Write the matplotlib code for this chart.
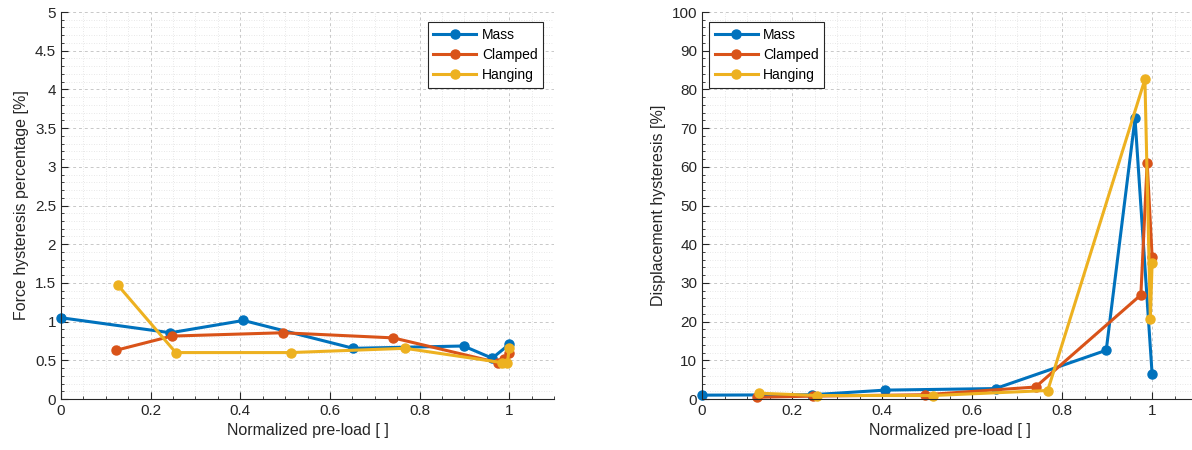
import numpy as np
import matplotlib
matplotlib.use('Agg')
import matplotlib.pyplot as plt
from matplotlib.ticker import MultipleLocator, FuncFormatter

plt.rcParams['font.family'] = ['Liberation Sans', 'DejaVu Sans']

# Force hysteresis data (left)
mass_x = [0.0, 0.244, 0.407, 0.652, 0.898, 0.962, 1.0]
mass_force = [1.05, 0.856, 1.015, 0.655, 0.685, 0.527, 0.706]
clamped_x = [0.123, 0.247, 0.495, 0.741, 0.975, 0.989, 1.0]
clamped_force = [0.63, 0.813, 0.856, 0.79, 0.47, 0.52, 0.6]
hanging_x = [0.127, 0.256, 0.512, 0.768, 0.984, 0.996, 1.0]
hanging_force = [1.47, 0.6, 0.6, 0.655, 0.47, 0.47, 0.66]

# Displacement hysteresis data (right)
mass_disp = [1.0, 1.1, 2.3, 2.7, 12.6, 72.5, 6.4]
clamped_disp = [0.45, 0.75, 1.1, 3.1, 26.9, 61.0, 36.7]
hanging_disp = [1.5, 0.9, 0.9, 2.2, 82.6, 20.8, 35.2]

labels = ['Mass', 'Clamped', 'Hanging']
colors = ['#0072BD', '#D95319', '#EDB120']
txt = '#262626'

fig = plt.figure(figsize=(11.92, 4.5), dpi=100)
ax1 = fig.add_axes([0.0512, 0.1133, 0.4136, 0.86])
ax2 = fig.add_axes([0.589, 0.1133, 0.4153, 0.86])

fmt = FuncFormatter(lambda v, p: '%g' % round(v, 6))


def style(ax, ymax, ymajor, yminor):
    ax.set_xlim(0, 1.1)
    ax.set_ylim(0, ymax)
    ax.set_xticks(np.arange(0, 1.01, 0.2))
    ax.xaxis.set_minor_locator(MultipleLocator(0.05))
    ax.yaxis.set_major_locator(MultipleLocator(ymajor))
    ax.yaxis.set_minor_locator(MultipleLocator(yminor))
    ax.xaxis.set_major_formatter(fmt)
    ax.yaxis.set_major_formatter(fmt)
    ax.grid(which='major', color='#c8c8c8', linestyle=(0, (3, 3)), linewidth=0.7)
    ax.grid(which='minor', color='#e0e0e0', linestyle=(0, (1, 2)), linewidth=0.6)
    ax.set_axisbelow(True)
    for s in ['top', 'right']:
        ax.spines[s].set_visible(False)
    for s in ['left', 'bottom']:
        ax.spines[s].set_color(txt)
        ax.spines[s].set_linewidth(0.8)
    ax.tick_params(which='both', direction='in', colors=txt, labelsize=11)
    ax.tick_params(which='major', length=5)
    ax.tick_params(which='minor', length=2.5)
    ax.set_xlabel('Normalized pre-load [ ]', fontsize=11.5, color=txt)


ys_force = [mass_force, clamped_force, hanging_force]
ys_disp = [mass_disp, clamped_disp, hanging_disp]
xs = [mass_x, clamped_x, hanging_x]

for x, y, lab, c in zip(xs, ys_force, labels, colors):
    ax1.plot(x, y, '-o', color=c, lw=2.2, ms=6.5, label=lab, clip_on=False)
for x, y, lab, c in zip(xs, ys_disp, labels, colors):
    ax2.plot(x, y, '-o', color=c, lw=2.2, ms=6.5, label=lab, clip_on=False)

style(ax1, 5, 0.5, 0.1)
style(ax2, 100, 10, 2)
ax1.set_ylabel('Force hysteresis percentage [%]', fontsize=11.5, color=txt)
ax2.set_ylabel('Displacement hysteresis [%]', fontsize=11.5, color=txt)

for ax, anchor in [(ax1, (0.744, 0.974)), (ax2, (0.014, 0.974))]:
    leg = ax.legend(loc='upper left', bbox_to_anchor=anchor, borderaxespad=0,
                    fontsize=10, frameon=True, fancybox=False, edgecolor=txt,
                    framealpha=1, borderpad=0.4, handlelength=3.1,
                    handletextpad=0.4, labelspacing=0.45)
    leg.get_frame().set_linewidth(0.8)

fig.savefig('out.png', dpi=100)
